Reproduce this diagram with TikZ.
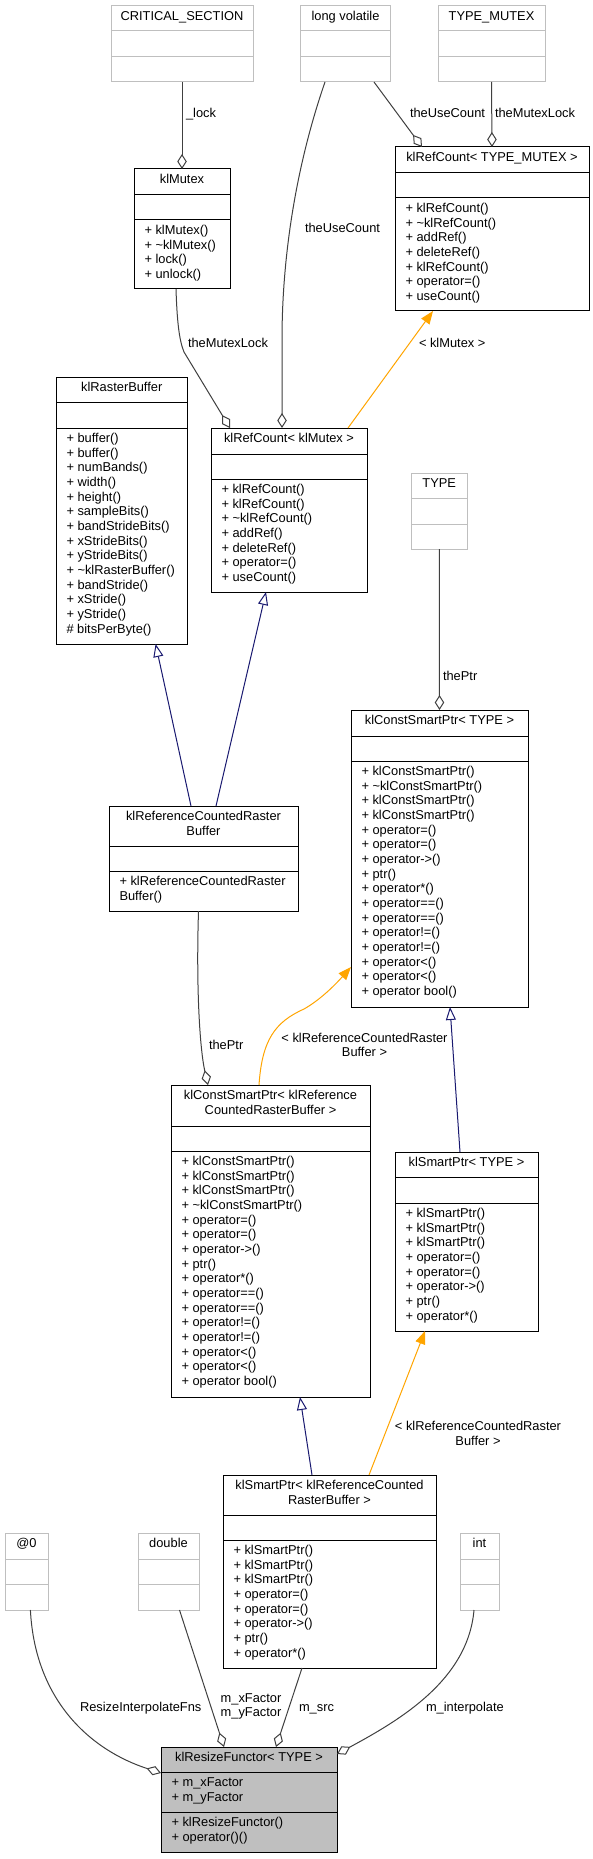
\documentclass[tikz,border=0pt]{standalone}
\usepackage{fontspec}
\setmainfont{Liberation Sans}
\usetikzlibrary{arrows.meta,calc}
\definecolor{edgegray}{HTML}{404040}
\definecolor{boxgray}{HTML}{BFBFBF}
\definecolor{navyc}{HTML}{191970}
\definecolor{orngc}{HTML}{FFA500}
\definecolor{fillgray}{HTML}{BFBFBF}
\newcommand{\fs}{\rule{0pt}{11pt}}
\newcommand{\umlclass}[9]{%
  \node[#2, anchor=north west, minimum width={#5pt-#3pt}, minimum height={#8pt-#4pt}] (#1) at (#3,#4) {};
  \draw[#2sep] (#3,#6) -- (#5,#6) (#3,#7) -- (#5,#7);
  \node[hdrtext, anchor=north] (#1-h) at ({(#3+#5)/2},#4+3.6) {\fs #9};
}
\newcommand{\umlmem}[4]{%
  \node[memtext, anchor=north west] (#1) at (#2+10.5,#3+3.6) {\fs #4};
}
\tikzset{
  txt/.style={font=\fontsize{12.85}{14.67}\selectfont, inner sep=0pt, outer sep=0pt},
  hdrtext/.style={txt, align=center},
  memtext/.style={txt, align=left},
  lbl/.style={txt, anchor=base west},
  lbltwo/.style={txt, align=center, anchor=north},
  gbox/.style={draw=boxgray, fill=white, line width=1pt, inner sep=0pt, outer sep=0pt},
  gboxsep/.style={draw=boxgray, line width=1pt},
  cbox/.style={draw=black, fill=white, line width=1pt, inner sep=0pt, outer sep=0pt},
  cboxsep/.style={draw=black, line width=1pt},
  rfbox/.style={draw=black, fill=fillgray, line width=1pt, inner sep=0pt, outer sep=0pt},
  rfboxsep/.style={draw=black, line width=1pt},
  agg/.style={draw=edgegray, line width=1pt, -{Diamond[open, length=15pt, width=9.5pt, line width=1pt]}},
  inh/.style={draw=navyc, line width=1pt, -{Triangle[open, length=13pt, width=10pt, line width=1pt]}},
  tpl/.style={draw=orngc, line width=1pt, -{Triangle[length=13pt, width=10pt]}},
}
\begin{document}
\begin{tikzpicture}[x=1pt, y=-1pt]
\useasboundingbox[fill=white] (0,0) rectangle (592,1859);

% external types
\umlclass{cs}{gbox}{111}{6}{253}{31}{57}{82}{CRITICAL\_SECTION}
\umlclass{lv}{gbox}{300.5}{6}{390.5}{31}{57}{82}{long volatile}
\umlclass{tm}{gbox}{438}{6}{545}{31}{57}{82}{TYPE\_MUTEX}
\umlclass{type}{gbox}{411}{473}{467.5}{498}{524}{549}{TYPE}
\umlclass{at0}{gbox}{5}{1533}{48}{1559}{1584}{1610}{@0}
\umlclass{dbl}{gbox}{138}{1533}{199}{1559}{1584}{1610}{double}
\umlclass{int}{gbox}{460}{1533}{499}{1559}{1584}{1610}{int}

% klMutex
\umlclass{mutex}{cbox}{134}{169}{230}{195}{220}{289}{klMutex}
\umlmem{mutex-m}{134}{220}{+ klMutex()\\+ \textasciitilde klMutex()\\+ lock()\\+ unlock()}

% klRefCount< TYPE_MUTEX >
\umlclass{rctm}{cbox}{395}{147}{589}{173}{198}{311}{klRefCount< TYPE\_MUTEX >}
\umlmem{rctm-m}{395}{198}{+ klRefCount()\\+ \textasciitilde klRefCount()\\+ addRef()\\+ deleteRef()\\+ klRefCount()\\+ operator=()\\+ useCount()}

% klRefCount< klMutex >
\umlclass{rcm}{cbox}{211}{428}{367}{454}{479}{592}{klRefCount< klMutex >}
\umlmem{rcm-m}{211}{479}{+ klRefCount()\\+ klRefCount()\\+ \textasciitilde klRefCount()\\+ addRef()\\+ deleteRef()\\+ operator=()\\+ useCount()}

% klRasterBuffer
\umlclass{rb}{cbox}{56}{377}{187.5}{402}{428}{644}{klRasterBuffer}
\umlmem{rb-m}{56}{428}{+ buffer()\\+ buffer()\\+ numBands()\\+ width()\\+ height()\\+ sampleBits()\\+ bandStrideBits()\\+ xStrideBits()\\+ yStrideBits()\\+ \textasciitilde klRasterBuffer()\\+ bandStride()\\+ xStride()\\+ yStride()\\\# bitsPerByte()}

% klReferenceCountedRasterBuffer
\umlclass{rcrb}{cbox}{109}{806}{298}{846}{871}{911}{klReferenceCountedRaster\\Buffer}
\umlmem{rcrb-m}{109}{871}{+ klReferenceCountedRaster\\Buffer()}

% klConstSmartPtr< TYPE >
\umlclass{cspT}{cbox}{351}{710}{528}{736}{761}{1007}{klConstSmartPtr< TYPE >}
\umlmem{cspT-m}{351}{761}{+ klConstSmartPtr()\\+ \textasciitilde klConstSmartPtr()\\+ klConstSmartPtr()\\+ klConstSmartPtr()\\+ operator=()\\+ operator=()\\+ operator->()\\+ ptr()\\+ operator*()\\+ operator==()\\+ operator==()\\+ operator!=()\\+ operator!=()\\+ operator<()\\+ operator<()\\+ operator bool()}

% klConstSmartPtr< klReferenceCountedRasterBuffer >
\umlclass{cspR}{cbox}{171}{1085}{370}{1126}{1151}{1397}{klConstSmartPtr< klReference\\CountedRasterBuffer >}
\umlmem{cspR-m}{171}{1151}{+ klConstSmartPtr()\\+ klConstSmartPtr()\\+ klConstSmartPtr()\\+ \textasciitilde klConstSmartPtr()\\+ operator=()\\+ operator=()\\+ operator->()\\+ ptr()\\+ operator*()\\+ operator==()\\+ operator==()\\+ operator!=()\\+ operator!=()\\+ operator<()\\+ operator<()\\+ operator bool()}

% klSmartPtr< TYPE >
\umlclass{spT}{cbox}{395}{1152}{538}{1177}{1203}{1331}{klSmartPtr< TYPE >}
\umlmem{spT-m}{395}{1203}{+ klSmartPtr()\\+ klSmartPtr()\\+ klSmartPtr()\\+ operator=()\\+ operator=()\\+ operator->()\\+ ptr()\\+ operator*()}

% klSmartPtr< klReferenceCountedRasterBuffer >
\umlclass{spR}{cbox}{223}{1475}{436}{1515}{1540}{1668}{klSmartPtr< klReferenceCounted\\RasterBuffer >}
\umlmem{spR-m}{223}{1540}{+ klSmartPtr()\\+ klSmartPtr()\\+ klSmartPtr()\\+ operator=()\\+ operator=()\\+ operator->()\\+ ptr()\\+ operator*()}

% klResizeFunctor< TYPE >
\umlclass{rf}{rfbox}{161}{1747}{337}{1772}{1812}{1852}{klResizeFunctor< TYPE >}
\umlmem{rf-a}{161}{1772}{+ m\_xFactor\\+ m\_yFactor}
\umlmem{rf-m}{161}{1812}{+ klResizeFunctor()\\+ operator()()}

% connectors
\draw[agg] (cs.south) -- (mutex.north);
\draw[agg] (tm.south) -- (rctm.north);
\draw[agg] ([xshift=73.5pt]lv.south west) -- ([xshift=27pt]rctm.north west);
\draw[agg] ([xshift=24.5pt]lv.south west) .. controls (298,160) and (282,250) .. (282,340) -- ([xshift=71pt]rcm.north west);
\draw[agg] ([xshift=-6pt]mutex.south) .. controls (177,320) and (179,340) .. (184,352) -- ([xshift=19pt]rcm.north west);
\draw[tpl] ([xshift=137pt]rcm.north west) -- ([xshift=38pt]rctm.south west);
\draw[inh] ([xshift=82pt]rcrb.north west) -- ([xshift=99.6pt]rb.south west);
\draw[inh] ([xshift=107pt]rcrb.north west) -- ([xshift=55pt]rcm.south west);
\draw[agg] (type.south) -- (cspT.north);
\draw[agg] ([xshift=89.5pt]rcrb.south west) .. controls (196,990) and (200,1050) .. ([xshift=37pt]cspR.north west);
\draw[tpl] ([xshift=88pt]cspR.north west) .. controls (262,1040) and (275,1022) .. (304,1009) .. controls (320,1000) and (335,985) .. ([yshift=40pt]cspT.south west);
\draw[inh] ([xshift=65pt]spT.north west) -- ([xshift=99pt]cspT.south west);
\draw[inh] ([xshift=89pt]spR.north west) -- ([xshift=129pt]cspR.south west);
\draw[tpl] ([xshift=146pt]spR.north west) -- ([xshift=30pt]spT.south west);
\draw[agg] ([xshift=79pt]spR.south west) -- ([xshift=115pt]rf.north west);
\draw[agg] ([xshift=41.5pt]dbl.south west) -- ([xshift=63pt]rf.north west);
\draw[agg] ([xshift=25.4pt]at0.south west) .. controls (35,1700) and (90,1750) .. ([yshift=-26pt]rf.north west);
\draw[agg] ([xshift=14pt]int.south west) .. controls (468,1680) and (400,1720) .. ([yshift=-7pt]rf.north east);

% labels
\node[lbl] (l-lock) at (186,117.5) {\_lock};
\node[lbl] (l-tml1) at (495,117.5) {theMutexLock};
\node[lbl] (l-tuc1) at (410,117.5) {theUseCount};
\node[lbl] (l-tuc2) at (305,232.5) {theUseCount};
\node[lbl] (l-tml2) at (188,347.5) {theMutexLock};
\node[lbl] (l-klm) at (419,347.5) {< klMutex >};
\node[lbl] (l-ptr1) at (443,680.5) {thePtr};
\node[lbl] (l-ptr2) at (209,1049.5) {thePtr};
\node[lbltwo] (l-rcrb1) at (364.5,1031) {\fs < klReferenceCountedRaster\\Buffer >};
\node[lbltwo] (l-rcrb2) at (478,1419.6) {\fs < klReferenceCountedRaster\\Buffer >};
\node[lbl] (l-rif) at (80,1711.5) {ResizeInterpolateFns};
\node[lbltwo] (l-fac) at (251,1691.3) {\fs m\_xFactor\\m\_yFactor};
\node[lbl] (l-src) at (299,1711.5) {m\_src};
\node[lbl] (l-int) at (426,1711.5) {m\_interpolate};
\end{tikzpicture}
\end{document}
